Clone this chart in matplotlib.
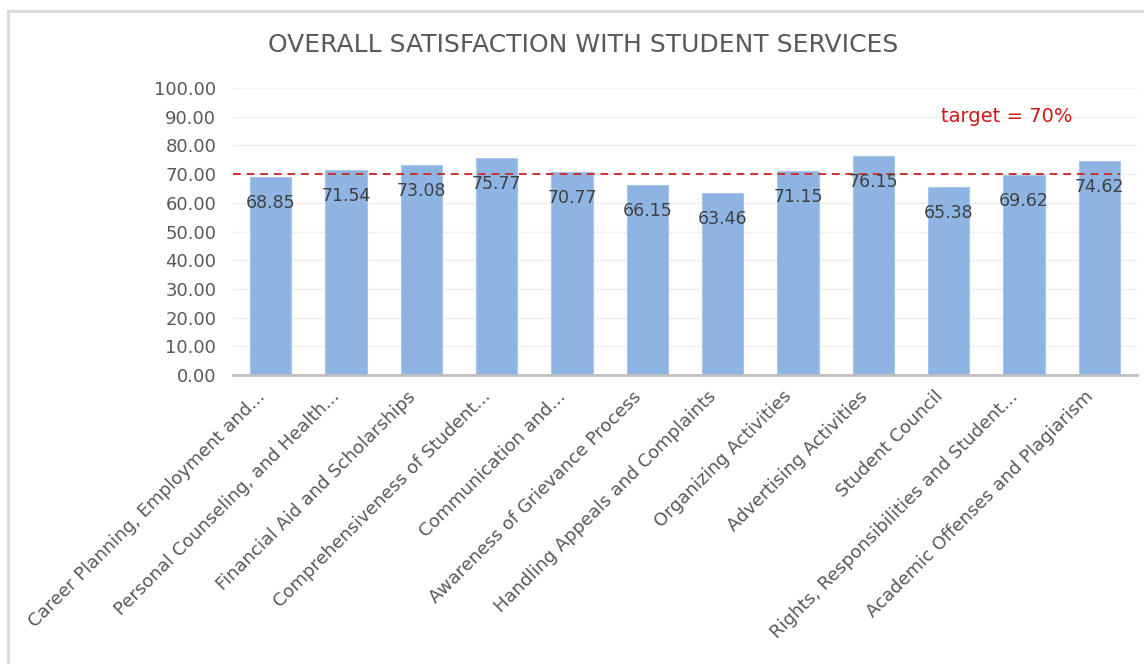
import matplotlib.pyplot as plt
from matplotlib.lines import Line2D

categories = [
    'Career Planning, Employment and...',
    'Personal Counseling, and Health...',
    'Financial Aid and Scholarships',
    'Comprehensiveness of Student...',
    'Communication and...',
    'Awareness of Grievance Process',
    'Handling Appeals and Complaints',
    'Organizing Activities',
    'Advertising Activities',
    'Student Council',
    'Rights, Responsibilities and Student...',
    'Academic Offenses and Plagiarism',
]
values = [68.85, 71.54, 73.08, 75.77, 70.77, 66.15, 63.46, 71.15, 76.15, 65.38, 69.62, 74.62]
target = 70
y_ticks = [0, 10, 20, 30, 40, 50, 60, 70, 80, 90, 100]

plt.rcParams['font.family'] = ['DejaVu Sans']
DPI = 100
fig = plt.figure(figsize=(1144 / DPI, 664 / DPI), dpi=DPI)
ax = fig.add_axes([233 / 1144, 1 - 375 / 664, (1137 - 233) / 1144, (375 - 88) / 664])

# chart border (top and left visible)
fig.add_artist(Line2D([8 / 1144, 8 / 1144], [0, 1 - 11 / 664], transform=fig.transFigure,
                      color='#d9d9d9', lw=2))
fig.add_artist(Line2D([8 / 1144, 1], [1 - 11 / 664, 1 - 11 / 664], transform=fig.transFigure,
                      color='#d9d9d9', lw=2))

x = list(range(len(categories)))
ax.bar(x, values, width=0.545, color='#8db4e2', edgecolor='#a9c6ea', linewidth=0.8, zorder=2)

for i, v in enumerate(values):
    ax.annotate(f'{v:.2f}', (i, v), xytext=(0, -17), textcoords='offset pixels',
                ha='center', va='top', fontsize=12.5, color='#404040', zorder=4)

ax.hlines(target, -0.5, len(categories) - 1 + 0.27, colors='#d03030', linestyles=(0, (4, 3)),
          linewidth=1.4, zorder=3)
ax.text(9.77, 90, 'target = 70%', ha='center', va='center', fontsize=14, color='#d01818')

ax.set_xlim(-0.5, len(categories) - 0.5)
ax.set_ylim(0, 100)
ax.set_yticks(y_ticks)
ax.set_yticklabels([f'{t:.2f}' for t in y_ticks], fontsize=13, color='#595959')
# labels sit a little left of the bar centres, like Excel's rotated labels
ax.set_xticks([i - 0.2 for i in x])
ax.set_xticklabels(categories, rotation=45, ha='right', rotation_mode='anchor',
                   fontsize=13, color='#595959')
ax.tick_params(axis='y', length=0, pad=12)
ax.tick_params(axis='x', length=0, pad=9)
ax.grid(axis='y', color='#efefef', linewidth=1, zorder=0)
for s in ['top', 'right', 'left']:
    ax.spines[s].set_visible(False)
ax.spines['bottom'].set_color('#bfbfbf')
ax.spines['bottom'].set_linewidth(2)
ax.spines['bottom'].set_zorder(5)

fig.text(583 / 1144, 1 - 45 / 664, 'OVERALL SATISFACTION WITH STUDENT SERVICES',
         ha='center', va='center', fontsize=18, color='#595959')

fig.savefig('out.png', dpi=DPI)
